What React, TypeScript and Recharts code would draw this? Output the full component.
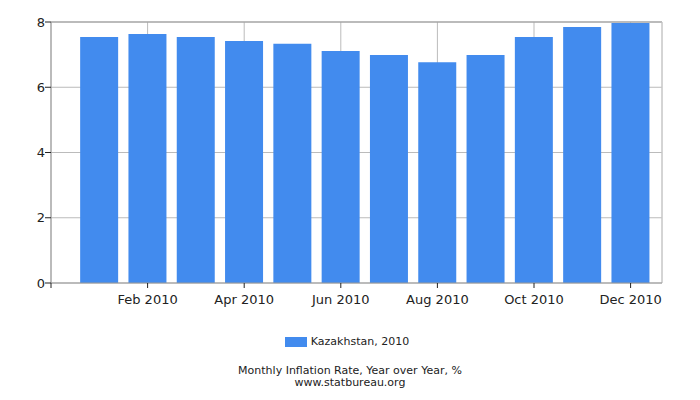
import { Bar, BarChart, CartesianGrid, Legend, ReferenceLine, XAxis, YAxis } from "recharts";

document.body.style.margin = "0";

const months = [1, 2, 3, 4, 5, 6, 7, 8, 9, 10, 11, 12];
const monthNames = ['Jan', 'Feb', 'Mar', 'Apr', 'May', 'Jun', 'Jul', 'Aug', 'Sep', 'Oct', 'Nov', 'Dec'];
const inflation = [7.54, 7.63, 7.54, 7.42, 7.33, 7.11, 6.99, 6.77, 6.99, 7.54, 7.85, 7.97];
const xTicks = [0, 2, 4, 6, 8, 10, 12];
const yTicks = [0, 2, 4, 6, 8];

const data = months.map((m, i) => ({ m, value: inflation[i] }));

const FONT = "'DejaVu Sans', Verdana, sans-serif";
const BAR_COLOR = '#428bee';

const LegendContent = () => (
    <div style={{ display: 'flex', justifyContent: 'center', alignItems: 'center', fontFamily: FONT, fontSize: 11, color: '#222' }}>
        <span style={{ display: 'inline-block', width: 22, height: 10, background: BAR_COLOR, marginRight: 4 }} />
        <span>Kazakhstan, 2010</span>
    </div>
);

const App = () => {
    return (
        <div style={{ position: 'relative', width: 700, height: 400, background: '#fff' }}>
            <BarChart width={700} height={400} data={data} margin={{ top: 22, right: 38, left: 0, bottom: 67 }}>
                <CartesianGrid stroke="#bbb" />
                <XAxis
                    dataKey="m"
                    type="number"
                    domain={[0, 12.65]}
                    ticks={xTicks}
                    allowDataOverflow
                    tickFormatter={(v: number) => (v === 0 ? '' : `${monthNames[v - 1]} 2010`)}
                    stroke="#999"
                    tickLine={{ stroke: '#222' }}
                    tickSize={5}
                    height={30}
                    tick={{ fill: '#222', fontSize: 13, fontFamily: FONT, dy: 5 }}
                />
                <YAxis
                    domain={[0, 8]}
                    ticks={yTicks}
                    width={51}
                    stroke="#999"
                    tickLine={{ stroke: '#222' }}
                    tickSize={6}
                    tick={{ fill: '#222', fontSize: 13, fontFamily: FONT, dx: 2 }}
                />
                <ReferenceLine y={8} stroke="#999" />
                <ReferenceLine x={12.65} stroke="#ccc" />
                <Bar dataKey="value" name="Kazakhstan, 2010" fill={BAR_COLOR} barSize={38} isAnimationActive={false} />
                <Legend verticalAlign="bottom" height={20} content={<LegendContent />} wrapperStyle={{ top: 335, left: -3, width: 700 }} />
            </BarChart>
            <div style={{ position: 'absolute', top: 365, left: 0, width: 700, textAlign: 'center', fontFamily: FONT, fontSize: 11, color: '#222', lineHeight: '12px' }}>
                <div>Monthly Inflation Rate, Year over Year, %</div>
                <div>www.statbureau.org</div>
            </div>
        </div>
    );
};

export default App;
